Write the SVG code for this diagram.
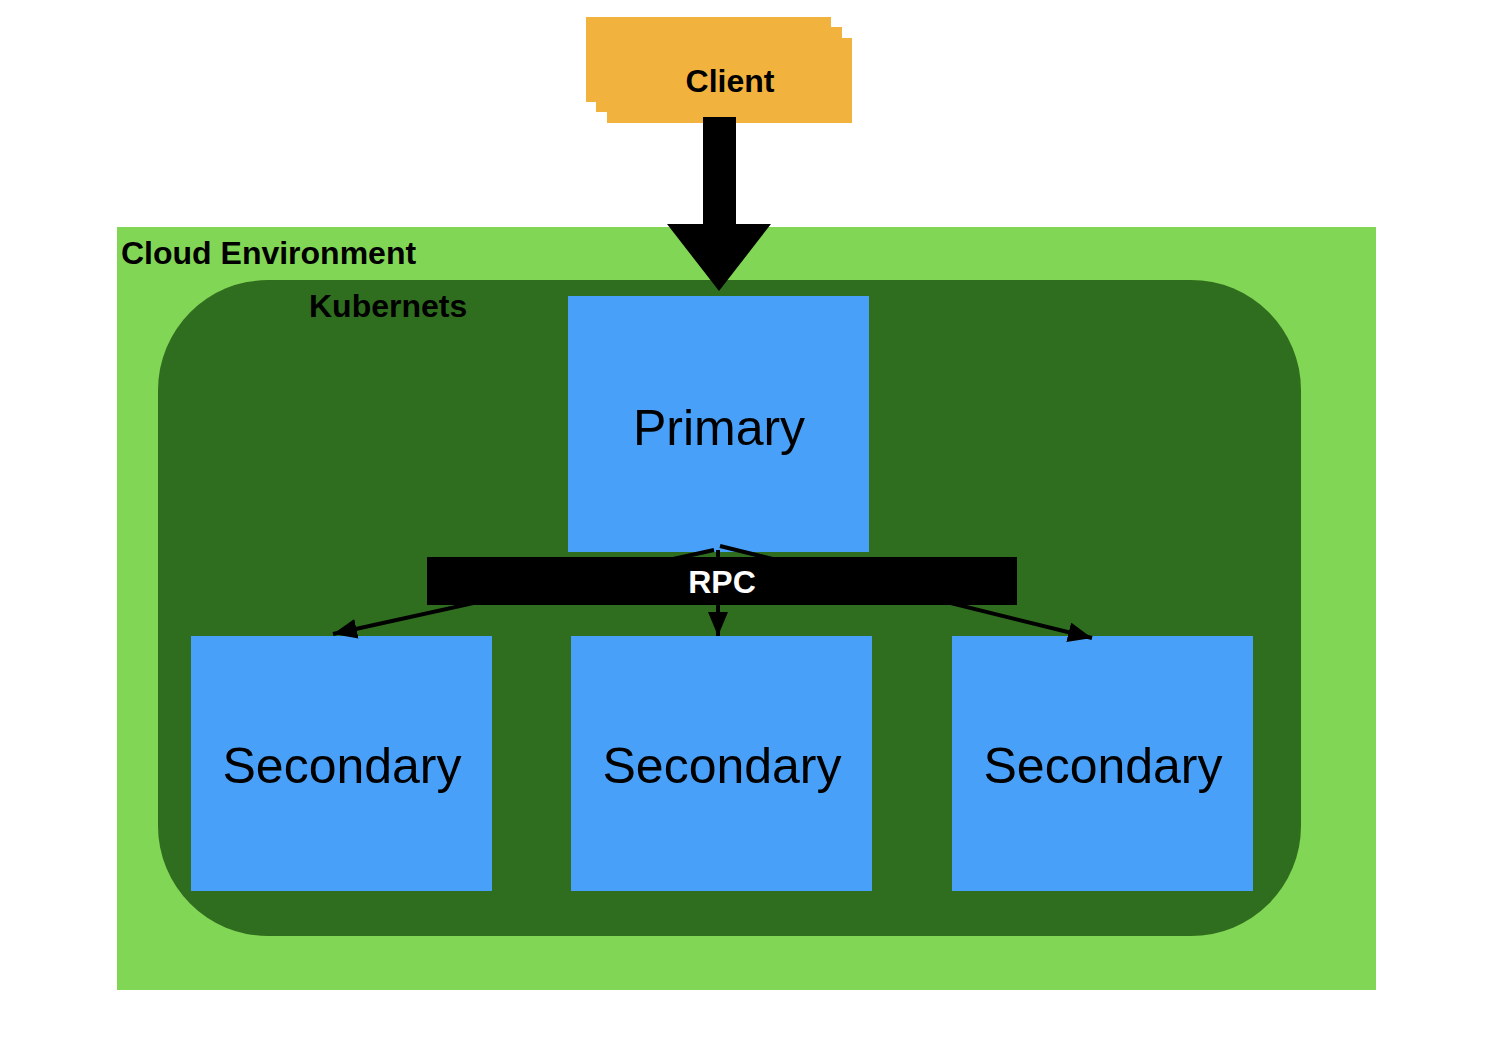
<svg xmlns="http://www.w3.org/2000/svg" width="1498" height="1058" viewBox="0 0 1498 1058">
  <defs>
    <style>
      .lbl { font-family: "Liberation Sans", Arial, sans-serif; fill: #000; }
      .b { font-weight: bold; font-size: 32px; }
      .big { font-size: 50px; }
      .box { fill: #48A0F8; }
      .client { fill: #F2B23E; }
      .conn { stroke: #000; stroke-width: 4; fill: none; }
    </style>
    <marker id="ah" markerWidth="6" markerHeight="5" refX="6" refY="2.5" orient="auto" markerUnits="strokeWidth">
      <path d="M0,0 L6,2.5 L0,5 z" fill="#000"/>
    </marker>
  </defs>
  <rect width="1498" height="1058" fill="#fff"/>

  <g id="cloud-environment">
    <rect x="117" y="227" width="1259" height="763" fill="#82D656"/>
    <text class="lbl b" x="121" y="264">Cloud Environment</text>
  </g>

  <g id="kubernetes">
    <rect x="158" y="280" width="1143" height="656" rx="110" ry="110" fill="#306E1F"/>
    <text class="lbl b" x="309" y="317">Kubernets</text>
  </g>

  <g id="client">
    <rect class="client" x="586" y="17" width="245" height="85"/>
    <rect class="client" x="596" y="27" width="246" height="85"/>
    <rect class="client" x="607" y="38" width="245" height="85"/>
    <text class="lbl b" x="730" y="92" text-anchor="middle">Client</text>
  </g>

  <g id="primary">
    <rect class="box" x="568" y="296" width="301" height="256"/>
    <text class="lbl big" x="719" y="445" text-anchor="middle">Primary</text>
  </g>

  <g id="secondary-1">
    <rect class="box" x="191" y="636" width="301" height="255"/>
    <text class="lbl big" x="342" y="783" text-anchor="middle">Secondary</text>
  </g>
  <g id="secondary-2">
    <rect class="box" x="571" y="636" width="301" height="255"/>
    <text class="lbl big" x="722" y="783" text-anchor="middle">Secondary</text>
  </g>
  <g id="secondary-3">
    <rect class="box" x="952" y="636" width="301" height="255"/>
    <text class="lbl big" x="1103" y="783" text-anchor="middle">Secondary</text>
  </g>

  <g id="connectors">
    <polygon points="703,117 736,117 736,224 771,224 719,291 667,224 703,224" fill="#000"/>
    <line class="conn" x1="714" y1="550" x2="333" y2="634" marker-end="url(#ah)"/>
    <line class="conn" x1="718" y1="550" x2="718" y2="636" marker-end="url(#ah)"/>
    <line class="conn" x1="720" y1="546" x2="1092" y2="638" marker-end="url(#ah)"/>
  </g>

  <g id="rpc-label">
    <rect x="427" y="557" width="590" height="48" fill="#000"/>
    <text class="lbl b" x="722" y="593" text-anchor="middle" fill="#fff" style="fill:#fff">RPC</text>
  </g>
</svg>
